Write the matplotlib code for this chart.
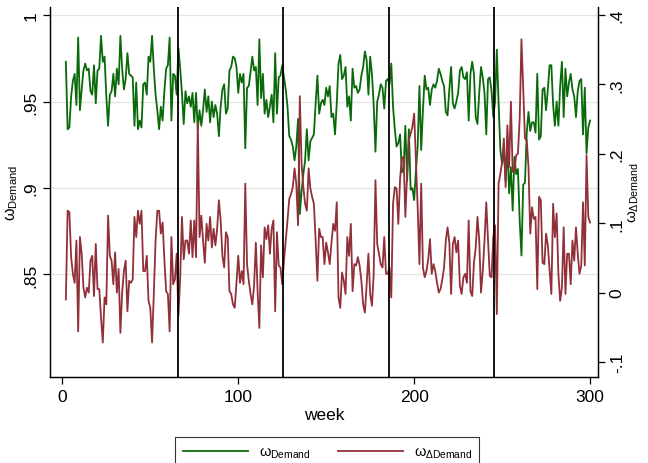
import numpy as np
import matplotlib
matplotlib.use("Agg")
import matplotlib.pyplot as plt

plt.rcParams['font.family'] = ['Liberation Sans', 'DejaVu Sans']
plt.rcParams['mathtext.fontset'] = 'custom'
plt.rcParams['mathtext.rm'] = 'Liberation Sans'
plt.rcParams['mathtext.it'] = 'Liberation Sans'

# weeks 2..300
weeks = np.arange(2, 301)

w_demand = [
    0.973, 0.934, 0.935, 0.953, 0.962, 0.966, 0.948, 0.987, 0.945, 0.957,
    0.968, 0.972, 0.968, 0.969, 0.956, 0.954, 0.971, 0.949, 0.968, 0.969,
    0.988, 0.973, 0.976, 0.953, 0.936, 0.954, 0.956, 0.966, 0.953, 0.969,
    0.960, 0.988, 0.969, 0.957, 0.963, 0.978, 0.966, 0.965, 0.964, 0.936,
    0.961, 0.934, 0.939, 0.935, 0.960, 0.961, 0.954, 0.976, 0.973, 0.988,
    0.969, 0.954, 0.945, 0.934, 0.947, 0.939, 0.956, 0.969, 0.971, 0.987,
    0.939, 0.966, 0.965, 0.954, 0.981, 0.969, 0.955, 0.937, 0.956, 0.949,
    0.953, 0.947, 0.955, 0.938, 0.955, 0.934, 0.945, 0.936, 0.945, 0.957,
    0.944, 0.953, 0.938, 0.950, 0.941, 0.948, 0.943, 0.930, 0.947, 0.957,
    0.960, 0.943, 0.946, 0.968, 0.970, 0.976, 0.975, 0.970, 0.955, 0.966,
    0.961, 0.966, 0.923, 0.958, 0.959, 0.967, 0.976, 0.968, 0.970, 0.948,
    0.986, 0.952, 0.966, 0.943, 0.951, 0.941, 0.947, 0.954, 0.938, 0.978,
    0.943, 0.964, 0.965, 0.971, 0.964, 0.957, 0.947, 0.930, 0.928, 0.924,
    0.916, 0.924, 0.940, 0.885, 0.898, 0.908, 0.916, 0.934, 0.916, 0.927,
    0.929, 0.931, 0.949, 0.965, 0.943, 0.949, 0.951, 0.948, 0.958, 0.953,
    0.959, 0.941, 0.943, 0.931, 0.949, 0.972, 0.977, 0.963, 0.965, 0.970,
    0.947, 0.953, 0.939, 0.969, 0.958, 0.959, 0.955, 0.957, 0.965, 0.970,
    0.979, 0.974, 0.954, 0.976, 0.966, 0.948, 0.921, 0.950, 0.954, 0.960,
    0.958, 0.946, 0.962, 0.963, 0.960, 0.972, 0.947, 0.934, 0.924, 0.926,
    0.931, 0.909, 0.911, 0.936, 0.904, 0.934, 0.899, 0.900, 0.893, 0.910,
    0.924, 0.959, 0.922, 0.945, 0.965, 0.957, 0.958, 0.948, 0.957, 0.960,
    0.958, 0.962, 0.969, 0.966, 0.962, 0.959, 0.944, 0.942, 0.957, 0.970,
    0.949, 0.946, 0.950, 0.955, 0.968, 0.970, 0.964, 0.963, 0.967, 0.939,
    0.966, 0.973, 0.966, 0.941, 0.937, 0.955, 0.970, 0.964, 0.955, 0.931,
    0.963, 0.964, 0.956, 0.941, 0.950, 0.980, 0.949, 0.922, 0.914, 0.922,
    0.904, 0.924, 0.897, 0.912, 0.887, 0.918, 0.908, 0.911, 0.881, 0.861,
    0.902, 0.903, 0.932, 0.944, 0.933, 0.938, 0.938, 0.932, 0.966, 0.928,
    0.930, 0.957, 0.958, 0.945, 0.957, 0.971, 0.971, 0.948, 0.936, 0.950,
    0.936, 0.959, 0.973, 0.941, 0.969, 0.953, 0.961, 0.966, 0.957, 0.953,
    0.941, 0.956, 0.962, 0.963, 0.931, 0.958, 0.920, 0.935, 0.939,
]

w_delta_demand = [
    -0.010, 0.118, 0.116, 0.051, 0.027, 0.014, 0.075, -0.056, 0.080, 0.056,
    0.007, -0.007, 0.007, 0.000, 0.046, 0.053, -0.005, 0.070, 0.005, 0.005,
    -0.036, -0.072, -0.007, -0.017, 0.111, 0.053, 0.046, 0.012, 0.058, 0.000,
    0.034, -0.058, 0.000, 0.031, 0.046, -0.027, 0.017, 0.014, 0.019, 0.109,
    0.080, 0.118, 0.099, 0.118, 0.031, 0.031, 0.053, -0.012, -0.022, -0.072,
    -0.002, 0.075, 0.118, 0.118, 0.085, 0.101, 0.048, 0.002, -0.002, -0.056,
    0.080, 0.012, 0.019, 0.056, -0.034, 0.022, 0.109, 0.048, 0.075, 0.075,
    0.056, 0.104, 0.051, 0.104, 0.051, 0.246, 0.080, 0.111, 0.075, 0.043,
    0.099, 0.075, 0.109, 0.065, 0.092, 0.068, 0.092, 0.133, 0.104, 0.053,
    0.036, 0.087, 0.080, 0.002, -0.002, -0.017, -0.022, 0.014, 0.053, 0.014,
    0.031, 0.012, 0.157, 0.041, 0.017, -0.002, -0.017, 0.010, 0.072, 0.002,
    -0.051, 0.068, 0.022, 0.094, 0.077, 0.097, 0.056, 0.092, 0.104, -0.027,
    0.087, 0.039, 0.036, 0.012, 0.046, 0.075, 0.104, 0.135, 0.142, 0.152,
    0.179, 0.157, 0.097, 0.283, 0.186, 0.152, 0.128, 0.118, 0.179, 0.150,
    0.138, 0.128, 0.075, 0.017, 0.092, 0.080, 0.080, 0.041, 0.072, 0.058,
    0.041, 0.072, 0.099, 0.089, 0.130, -0.007, -0.022, 0.029, 0.017, -0.002,
    0.080, 0.053, 0.099, 0.002, 0.041, 0.039, 0.051, 0.039, 0.017, -0.017,
    -0.029, 0.012, 0.056, -0.002, -0.019, 0.027, 0.162, 0.070, 0.056, 0.041,
    0.036, 0.080, 0.027, 0.027, 0.036, -0.007, 0.128, 0.152, 0.150, 0.099,
    0.164, 0.193, 0.196, 0.109, 0.171, 0.220, 0.229, 0.239, 0.258, 0.190,
    0.123, 0.041, 0.157, 0.036, 0.022, 0.031, 0.048, 0.077, 0.027, 0.041,
    0.031, 0.014, 0.000, 0.005, 0.019, 0.036, 0.075, 0.094, 0.072, -0.002,
    0.070, 0.080, 0.058, 0.075, 0.010, -0.002, 0.022, 0.027, 0.014, 0.104,
    0.002, -0.005, 0.043, 0.065, 0.109, 0.075, 0.000, 0.031, 0.075, 0.130,
    0.075, 0.024, 0.022, 0.080, 0.097, -0.031, 0.157, 0.171, 0.188, 0.222,
    0.152, 0.241, 0.181, 0.275, 0.174, 0.176, 0.198, 0.200, 0.251, 0.365,
    0.292, 0.222, 0.220, 0.181, 0.085, 0.123, 0.106, 0.109, 0.005, 0.138,
    0.133, 0.043, 0.041, 0.085, 0.068, 0.034, -0.002, 0.128, 0.080, 0.114,
    0.027, -0.012, 0.007, 0.094, -0.002, 0.056, 0.056, 0.012, 0.075, 0.046,
    0.094, 0.056, 0.027, 0.039, 0.130, 0.039, 0.198, 0.109, 0.101,
]

breaks = [65.5, 125.5, 185.5, 245.5]

green = '#0A6A0A'
red = '#913039'

fig = plt.figure(figsize=(6.48, 4.64), dpi=100)
ax = fig.add_axes([0.0772, 0.1853, 0.8456, 0.7975])
ax2 = ax.twinx()

ax.set_xlim(-7, 304.5)
ax.set_ylim(0.7907, 1.0047)
ax2.set_ylim(-0.1217, 0.4116)

ax.set_yticks([0.85, 0.9, 0.95, 1.0])
ax.set_yticklabels(['.85', '.9', '.95', '1'], rotation=90, va='center')
ax2.set_yticks([-0.1, 0, 0.1, 0.2, 0.3, 0.4])
ax2.set_yticklabels(['-.1', '0', '.1', '.2', '.3', '.4'], rotation=90, va='center')
ax.set_xticks([0, 100, 200, 300])

ax.grid(axis='y', color='#E4E4E4', lw=0.9)
ax.set_axisbelow(True)

l1, = ax.plot(weeks, w_demand, color=green, lw=1.3, zorder=3)
l2, = ax2.plot(weeks, w_delta_demand, color=red, lw=1.3, zorder=3)
for b in breaks:
    ax2.axvline(b, color='black', lw=1.3, zorder=4)

for a in (ax, ax2):
    a.spines['top'].set_visible(False)
    a.tick_params(labelsize=12.5, length=5, width=0.9, direction='out')
    for s in a.spines.values():
        s.set_linewidth(0.9)

ax.set_xlabel('week', fontsize=12.5, labelpad=2)
ax.set_ylabel(r'$\omega_{\rm Demand}$', fontsize=11.5, labelpad=2)
ax2.set_ylabel(r'$\omega_{\Delta \rm Demand}$', fontsize=11, rotation=90, labelpad=1)

leg = fig.legend([l1, l2], [r'$\omega_{\rm Demand}$', r'$\omega_{\Delta \rm Demand}$'],
                 loc='upper center', bbox_to_anchor=(0.505, 0.071), ncol=2,
                 fontsize=10.5, handlelength=4.5, handletextpad=0.7,
                 columnspacing=1.9, borderpad=0.5,
                 frameon=True, fancybox=False)
leg.get_frame().set_edgecolor('black')
leg.get_frame().set_linewidth(0.8)

fig.savefig('out.png', dpi=100)
